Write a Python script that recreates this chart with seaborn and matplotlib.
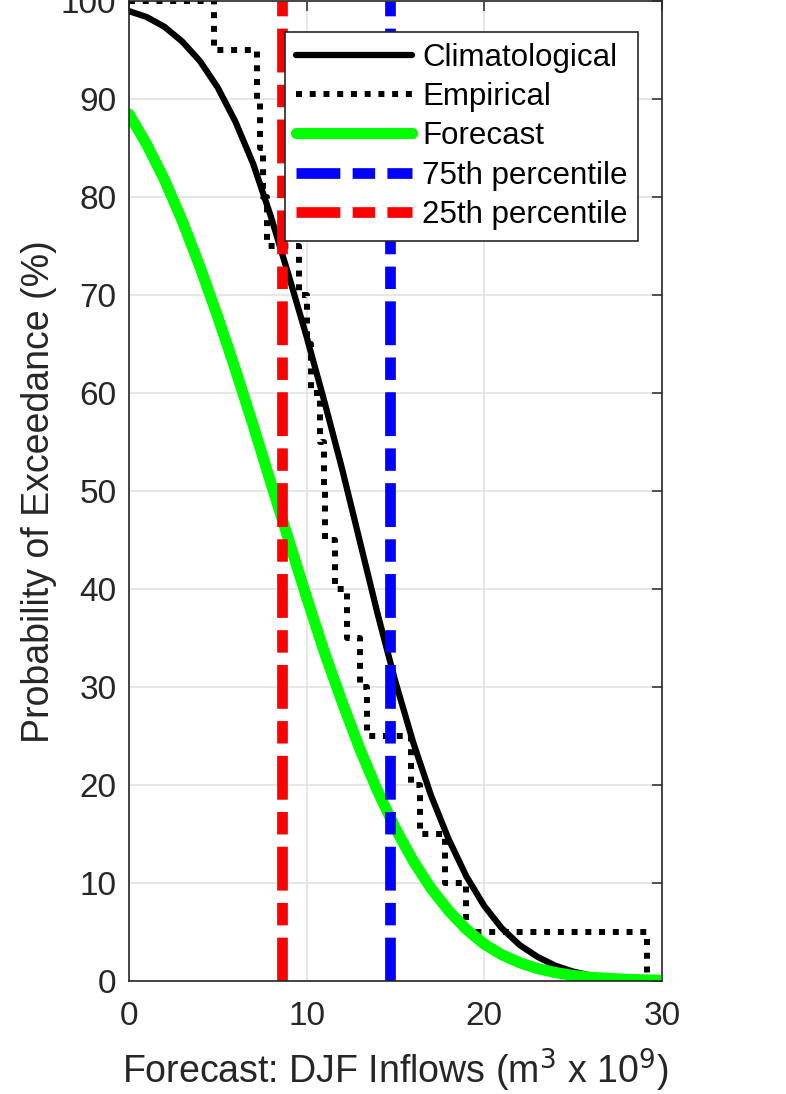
import numpy as np
import pandas as pd
import matplotlib
matplotlib.use("Agg")
import matplotlib.pyplot as plt
import seaborn as sns

# Inflow grid (m^3 x 10^9) where the fitted curves were read
inflow = [0, 1, 2, 3, 4, 5, 6, 7, 8, 9, 10, 11, 12, 13, 14, 15,
          16, 17, 18, 19, 20, 21, 22, 23, 24, 25, 26, 27, 28, 29, 30]

# Probability of exceedance (%)
climatological = [99.0, 98.4, 97.4, 95.9, 93.9, 91.2, 87.7, 83.4, 78.0, 72.0,
                  65.8, 59.2, 52.3, 44.9, 37.5, 30.6, 24.4, 19.0, 14.5, 10.7,
                  7.7, 5.4, 3.7, 2.5, 1.6, 1.0, 0.6, 0.35, 0.2, 0.1, 0.05]
forecast = [88.5, 85.4, 81.8, 77.6, 72.9, 67.8, 62.4, 56.7, 50.8, 45.0,
            39.2, 33.6, 28.5, 23.7, 19.4, 15.6, 12.3, 9.5, 7.2, 5.3,
            3.8, 2.7, 1.9, 1.3, 0.9, 0.6, 0.4, 0.3, 0.2, 0.15, 0.1]

# Observed DJF inflows (sorted) and their empirical exceedance
observed = [0, 4.8, 7.2, 7.4, 7.55, 7.75, 9.6, 10.0, 10.25, 10.75, 11.0,
            11.05, 11.6, 12.3, 13.0, 13.4, 15.9, 16.4, 17.8, 19.0, 29.15]
empirical = [100, 95, 90, 85, 80, 75, 70, 65, 60, 55, 50,
             45, 40, 35, 30, 25, 20, 15, 10, 5, 0]

p75 = 14.7
p25 = 8.6

sns.set_theme(style="whitegrid")
plt.rcParams["font.family"] = ["Liberation Sans", "DejaVu Sans"]

df_fit = pd.DataFrame({"inflow": inflow, "clim": climatological, "fcst": forecast})
df_emp = pd.DataFrame({"inflow": observed, "emp": empirical})

fig, ax = plt.subplots(figsize=(7.86, 10.94), dpi=100)
fig.subplots_adjust(left=0.164, right=0.842, top=0.9988, bottom=0.103)
ax.set_facecolor("white")

sns.lineplot(data=df_fit, x="inflow", y="clim", color="black", lw=4.5,
             label="Climatological", ax=ax)
sns.lineplot(data=df_emp, x="inflow", y="emp", color="black", lw=4.3,
             drawstyle="steps-post", linestyle=(0, (1, 1.3)),
             label="Empirical", ax=ax)
sns.lineplot(data=df_fit, x="inflow", y="fcst", color="#00ff00", lw=8,
             label="Forecast", ax=ax)
ax.axvline(p75, color="#0000ff", lw=7.7, linestyle=(0, (4.1, 1.15, 2.1, 1.15)),
           label="75th percentile")
ax.axvline(p25, color="#ff0000", lw=7.7, linestyle=(0, (4.1, 1.15, 2.1, 1.15)),
           label="25th percentile")

ax.set_xlim(0, 30)
ax.set_ylim(0, 100)
ax.set_xticks([0, 10, 20, 30])
ax.set_yticks(np.arange(0, 101, 10))

ax.grid(True, color="#e3e3e3", lw=1.2)
for sp in ax.spines.values():
    sp.set_color("#262626")
    sp.set_linewidth(1.2)
ax.tick_params(direction="in", length=7, width=1.1, color="#262626",
               top=True, right=True, labelsize=24, labelcolor="#262626")
ax.tick_params(axis="x", pad=14)
ax.tick_params(axis="y", pad=9)

ax.set_xlabel("Forecast: DJF Inflows (m$^3$ x 10$^9$)", fontsize=27,
              color="#262626", labelpad=11)
ax.set_ylabel("Probability of Exceedance (%)", fontsize=27,
              color="#262626", labelpad=3)

leg = ax.legend(loc="upper right", bbox_to_anchor=(0.956, 0.969),
                borderaxespad=0, fontsize=22.5, handlelength=3.7,
                handletextpad=0.33, labelspacing=0.3, borderpad=0.35,
                fancybox=False, framealpha=1, edgecolor="#262626")
leg.get_frame().set_linewidth(1.2)
for t in leg.get_texts():
    t.set_color("black")

fig.savefig("out.png", dpi=100)
